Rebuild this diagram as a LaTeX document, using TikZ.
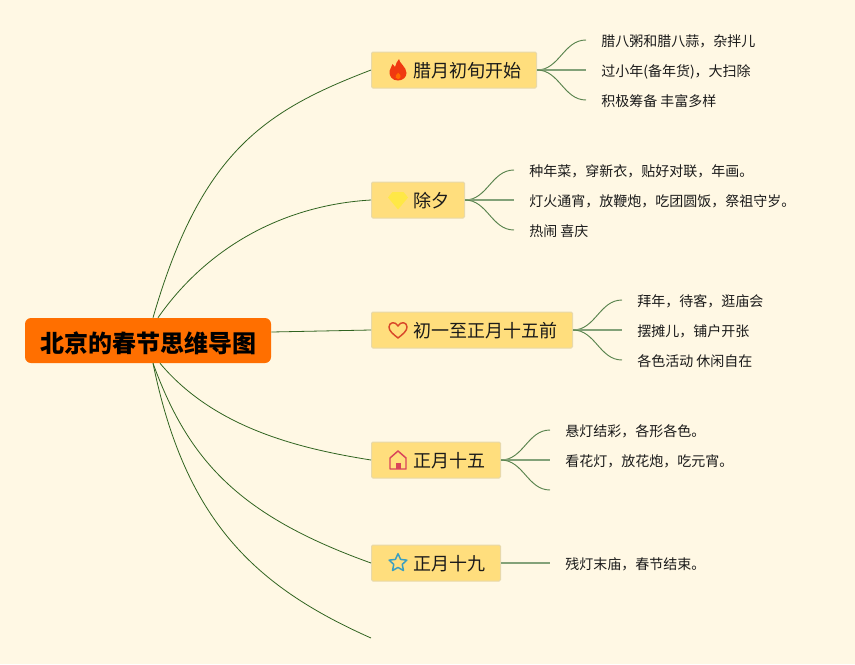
\documentclass[tikz,border=0pt]{standalone}
\usepackage{fontspec}
\setmainfont{Noto Sans CJK SC}
\usetikzlibrary{shapes.geometric}
\definecolor{fondoMap}{RGB}{255,248,228}
\definecolor{ramaMap}{RGB}{48,100,32}
\definecolor{raizMap}{RGB}{255,111,0}
\definecolor{temaMap}{RGB}{255,222,125}
\definecolor{bordeMap}{RGB}{232,217,170}
\definecolor{textoMap}{RGB}{26,26,26}
\definecolor{llamaMap}{RGB}{240,58,16}
\definecolor{gemaMap}{RGB}{255,232,70}
\definecolor{corazonMap}{RGB}{216,72,42}
\definecolor{casaMap}{RGB}{217,67,90}
\definecolor{estrellaMap}{RGB}{58,159,192}

\begin{document}
\begin{tikzpicture}[
  x=0.75pt, y=-0.75pt,
  root/.style  = {rectangle, rounded corners=4.5pt, fill=raizMap,
                  minimum width=184.5pt, minimum height=33.75pt, inner sep=0pt,
                  text height=18pt, text depth=0.6pt,
                  text=black, font=\fontsize{18}{22}\selectfont\bfseries},
  topic/.style = {rectangle, rounded corners=1pt, anchor=west,
                  draw=bordeMap, fill=temaMap, line width=0.75pt,
                  minimum height=27pt, inner xsep=11.25pt, inner ysep=0pt,
                  text height=12.5pt, text depth=0.8pt,
                  text=textoMap, font=\fontsize{13.5}{16}\selectfont},
  leaf/.style  = {anchor=west, inner xsep=11.25pt, inner ysep=0pt,
                  text height=10pt, text depth=1pt,
                  text=textoMap, font=\fontsize{10.5}{13}\selectfont},
  rama/.style  = {draw=ramaMap, line width=0.6pt},
  hoja/.style  = {draw=ramaMap!80, line width=0.7pt, out=0, in=180},
  hojaR/.style = {draw=ramaMap!60, line width=1pt},
]
\path[fill=fondoMap, use as bounding box] (0,0) rectangle (855,664);

% ── Nodos ────────────────────────────────────────────────────
\node[root]  (R)  at (148,340.5) {北京的春节思维导图};
\node[topic] (T1) at (371,70)    {\hspace*{20.25pt}腊月初旬开始};
\node[topic] (T2) at (371,200)   {\hspace*{20.25pt}除夕};
\node[topic] (T3) at (371,330)   {\hspace*{20.25pt}初一至正月十五前};
\node[topic] (T4) at (371,460)   {\hspace*{20.25pt}正月十五};
\node[topic] (T5) at (371,563)   {\hspace*{20.25pt}正月十九};
\coordinate  (T6) at (371,638);

\node[leaf] (A1) at (586,40)  {腊八粥和腊八蒜，杂拌儿};
\node[leaf] (A2) at (586,70)  {过小年(备年货)，大扫除};
\node[leaf] (A3) at (586,100) {积极筹备 丰富多样};
\node[leaf] (B1) at (514,170) {种年菜，穿新衣，贴好对联，年画。};
\node[leaf] (B2) at (514,200) {灯火通宵，放鞭炮，吃团圆饭，祭祖守岁。};
\node[leaf] (B3) at (514,230) {热闹 喜庆};
\node[leaf] (C1) at (622,300) {拜年，待客，逛庙会};
\node[leaf] (C2) at (622,330) {摆摊儿，铺户开张};
\node[leaf] (C3) at (622,360) {各色活动 休闲自在};
\node[leaf] (D1) at (550,430) {悬灯结彩，各形各色。};
\node[leaf] (D2) at (550,460) {看花灯，放花炮，吃元宵。};
\coordinate (D3) at (550,490);
\node[leaf] (E1) at (550,563) {残灯末庙，春节结束。};

% ── Iconos ───────────────────────────────────────────────────
\fill[shift={(398,70)}, llamaMap]
  (0,10.5) .. controls (-6,10.5) and (-9,6) .. (-8.5,1)
  .. controls (-8,-2) and (-6,-3) .. (-5.5,-6)
  .. controls (-4,-4.5) and (-3.5,-4) .. (-3,-3)
  .. controls (-2,-6) and (-1,-9) .. (1,-11)
  .. controls (1,-7) and (8.5,-3) .. (8.5,3)
  .. controls (8.5,7) and (5,10.5) .. (0,10.5) -- cycle;
\fill[shift={(398,70)}, orange!85!red]
  (0,9) .. controls (-2.5,9) and (-3,6.5) .. (-2,5)
  .. controls (-1,4) and (0,3.5) .. (0,2.5)
  .. controls (2,4) and (3,5.5) .. (2.5,7)
  .. controls (2,8.5) and (1,9) .. (0,9) -- cycle;
\fill[shift={(398,200)}, gemaMap]
  (-5.5,-8) -- (5.5,-8) -- (10,-2.5) -- (0,9.5) -- (-10,-2.5) -- cycle;
\draw[shift={(398,330)}, corazonMap, line width=1.1pt, line join=round]
  (0,8) .. controls (-5,4) and (-9,1) .. (-9,-3)
  .. controls (-9,-8) and (-2.5,-9) .. (0,-4)
  .. controls (2.5,-9) and (9,-8) .. (9,-3)
  .. controls (9,1) and (5,4) .. (0,8) -- cycle;
\draw[shift={(398,460)}, casaMap, line width=1.1pt, line join=round]
  (-8,9) -- (-8,-2) -- (0,-9) -- (8,-2) -- (8,9) -- cycle;
\fill[shift={(398,460)}, casaMap] (-2.5,9) -- (-2.5,3) -- (2.5,3) -- (2.5,9) -- cycle;
\node[draw=estrellaMap, line width=1.1pt, star, star points=5, star point ratio=2.1,
      minimum size=14pt, inner sep=0pt, line join=round] (S) at (398,563) {};

% ── Ramas principales ────────────────────────────────────────
\draw[rama] ([xshift=3.75pt]R.north) .. controls (201,152) and (264,111) .. (T1.west);
\draw[rama] ([xshift=7.5pt]R.north) .. controls (208,246) and (285,205) .. (T2.west);
\draw[rama] (R.east |- 0,332) -- (T3.west);
\draw[rama] ([xshift=9pt]R.south) .. controls (215,429) and (302,449) .. (T4.west);
\draw[rama] ([xshift=3.75pt]R.south) .. controls (188,459) and (237,515) .. (T5.west);
\draw[rama] ([xshift=3.75pt]R.south) .. controls (185,520) and (254,586) .. (T6);

% ── Ramas secundarias ────────────────────────────────────────
\foreach \t/\a/\b/\c in {T1/A1/A2/A3, T2/B1/B2/B3, T3/C1/C2/C3, T4/D1/D2/D3}{
  \draw[hoja] (\t.east) to (\a.west);
  \draw[hojaR] (\t.east) -- (\b.west);
  \draw[hoja] (\t.east) to (\c);
}
\draw[hojaR] (T5.east) -- (E1.west);
\end{tikzpicture}
\end{document}
